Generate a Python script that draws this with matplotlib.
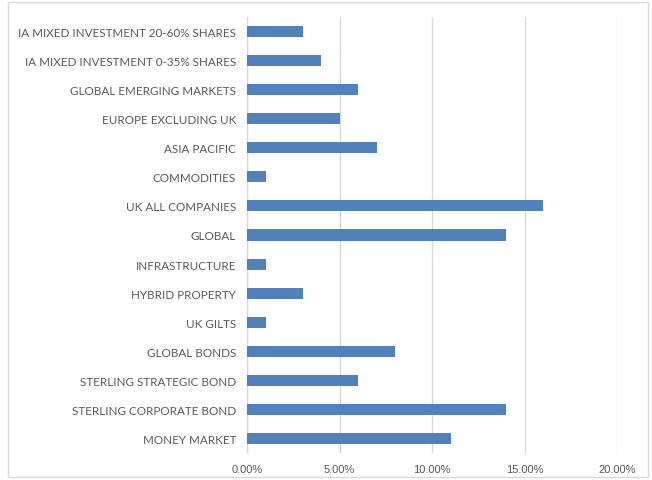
import matplotlib
matplotlib.use("Agg")
import matplotlib.pyplot as plt
from matplotlib.patches import Rectangle
from matplotlib.ticker import FuncFormatter

categories = [
    "IA MIXED INVESTMENT 20-60% SHARES",
    "IA MIXED INVESTMENT 0-35% SHARES",
    "GLOBAL EMERGING MARKETS",
    "EUROPE EXCLUDING UK",
    "ASIA PACIFIC",
    "COMMODITIES",
    "UK ALL COMPANIES",
    "GLOBAL",
    "INFRASTRUCTURE",
    "HYBRID PROPERTY",
    "UK GILTS",
    "GLOBAL BONDS",
    "STERLING STRATEGIC BOND",
    "STERLING CORPORATE BOND",
    "MONEY MARKET",
]
values = [0.03, 0.04, 0.06, 0.05, 0.07, 0.01, 0.16, 0.14, 0.01, 0.03, 0.01, 0.08, 0.06, 0.14, 0.11]
xticks = [0.0, 0.05, 0.10, 0.15, 0.20]

W, H = 652, 481
fig = plt.figure(figsize=(W / 100, H / 100), dpi=100)
ax = fig.add_axes([247 / W, 1 - 454 / H, (617 - 247) / W, (454 - 18) / H])

n = len(categories)
ypos = list(range(n))
ax.barh(ypos, values, height=0.38, color="#4F81BD", zorder=3)
ax.set_ylim(n - 0.5, -0.5)
ax.set_xlim(0, 0.20)
ax.set_xticks(xticks)
ax.xaxis.set_major_formatter(FuncFormatter(lambda v, p: f"{v*100:.2f}%"))
ax.set_yticks(ypos)
ax.set_yticklabels(categories, fontfamily="Lato", fontsize=8.4, color="#595959")
for lab in ax.get_xticklabels():
    lab.set_fontfamily("Liberation Sans")
    lab.set_fontsize(8)
    lab.set_color("#595959")
ax.tick_params(axis="both", length=0)
ax.tick_params(axis="y", pad=8)
ax.tick_params(axis="x", pad=8)
ax.grid(axis="x", color="#D9D9D9", linewidth=1, zorder=0)
for s in ["top", "right", "bottom"]:
    ax.spines[s].set_visible(False)
ax.spines["left"].set_color("#D9D9D9")
ax.spines["left"].set_linewidth(1)

fig.patches.append(Rectangle((8 / W, 1 - 478 / H), (648 - 8) / W, (478 - 3) / H,
                             transform=fig.transFigure, fill=False,
                             edgecolor="#D9D9D9", linewidth=1))
fig.savefig("out.png", dpi=100)
